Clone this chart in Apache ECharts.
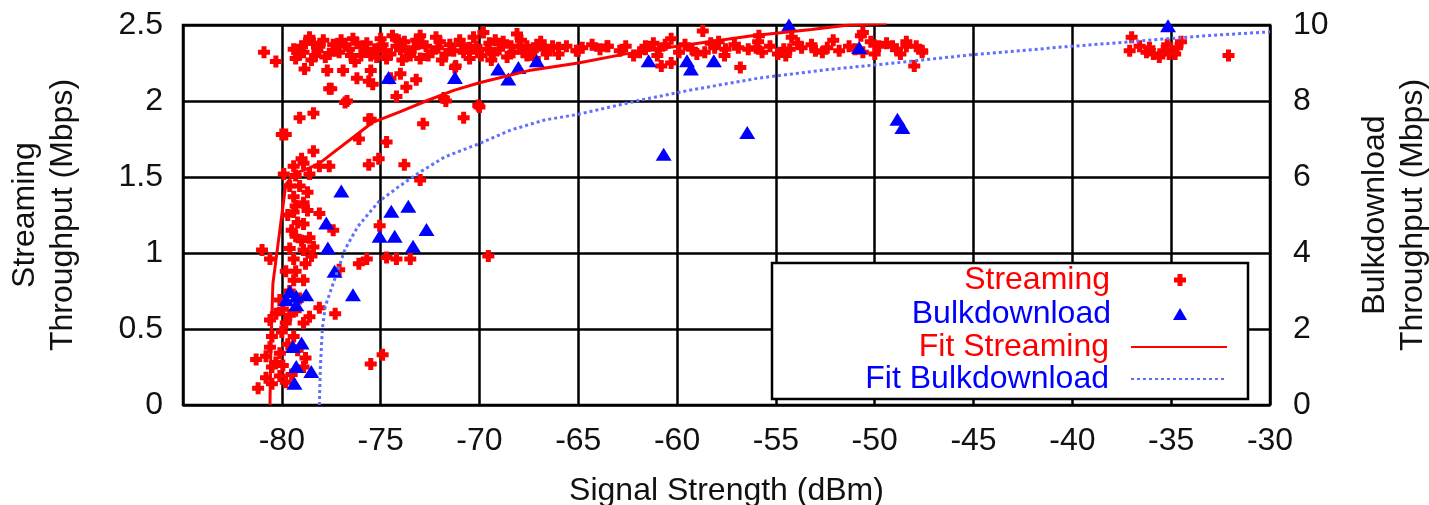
<!DOCTYPE html>
<html>
<head>
<meta charset="utf-8">
<script src="https://cdn.jsdelivr.net/npm/echarts@6/dist/echarts.min.js"></script>
<style>
  html, body { margin: 0; padding: 0; background: #fff; }
  #chart { width: 1429px; height: 505px; }
</style>
</head>
<body>
<div id="chart"></div>
<script>
// Signal strength (dBm) vs. measured throughput.

// Streaming throughput samples: [signal dBm, Mbps] (left axis)
const streamingPoints = [
  [-80.9,2.32],[-80.3,2.26],
  [-78.6,2.42],[-78.9,2.32],[-79.3,2.28],[-78.1,2.36],[-77.4,2.37],[-77.6,2.31],[-77.1,2.32],[-78.85,2.21],
  [-77.7,2.20],[-76.9,2.20],[-77.6,2.08],[-76.2,2.15],[-75.5,2.20],[-75.4,2.11],[-76.7,2.00],
  [-76.4,2.41],[-75.9,2.36],[-75.0,2.41],[-74.4,2.43],[-74.0,2.34],[-73.5,2.30],[-73.0,2.43],[-72.7,2.36],
  [-72.0,2.39],[-71.5,2.37],[-74.7,2.28],[-75.5,2.30],[-73.0,2.28],
  [-74.5,2.15],[-74.0,2.18],[-73.7,2.09],[-73.2,2.14],[-74.2,2.03],[-71.8,2.02],
  [-79.1,1.89],[-78.4,1.92],[-79.8,1.78],[-80.0,1.78],[-75.5,1.88],[-72.85,1.85],[-74.7,1.73],[-76.1,1.75],
  [-78.4,1.67],[-75.6,1.58],[-75.1,1.62],[-73.8,1.58],
  [-79.4,1.57],[-78.9,1.59],[-78.1,1.57],[-79.3,1.51],[-78.6,1.52],[-79.6,1.44],[-79.1,1.44],[-79.4,1.37],
  [-78.9,1.33],[-79.3,1.31],[-77.6,1.57],[-73.0,1.48],
  [-79.4,1.27],[-78.1,1.26],[-78.9,1.19],[-77.4,1.15],[-79.3,1.11],[-78.6,1.10],[-79.6,1.03],[-81.0,1.02],
  [-80.6,0.96],[-78.9,1.02],[-78.4,1.04],[-79.4,0.96],[-78.8,0.93],[-79.3,0.88],[-78.9,0.82],[-79.4,0.82],
  [-77.1,0.89],[-75.7,0.96],[-76.1,0.93],[-74.7,0.97],[-74.2,0.96],[-73.5,0.96],[-75.05,1.18],
  [-79.95,0.63],[-80.1,0.69],[-80.6,0.56],[-79.6,0.59],[-78.9,0.54],[-78.6,0.58],[-78.1,0.64],[-77.3,0.60],[-79.8,0.54],
  [-80.5,0.45],[-79.4,0.45],[-80.6,0.38],[-80.1,0.34],[-81.3,0.30],[-80.8,0.32],[-78.8,0.31],[-78.9,0.25],
  [-80.5,0.25],[-79.95,0.26],
  [-80.8,0.18],[-80.1,0.19],[-81.2,0.11],[-80.5,0.14],[-79.8,0.15],
  [-75.5,0.27],[-74.9,0.33],[-69.55,0.98],
  [-70.8,2.32],[-70.15,2.36],[-69.8,2.45],[-68.8,2.39],[-68.1,2.44],[-67.6,2.36],[-66.9,2.39],[-66.3,2.36],
  [-70.5,2.28],[-67.6,2.30],[-69.3,2.31],[-68.3,2.32],[-65.1,2.33],[-63.55,2.36],[-62.2,2.30],[-71.2,2.23],
  [-70.8,1.89],[-70.0,1.96],[-71.7,2.00],
  [-75.6,1.88],[-70.06,1.97],[-71.24,2.22],[-75.6,2.13],[-76.8,1.99],[-77.5,2.08],
  [-58.7,2.46],[-61.6,2.36],[-60.9,2.34],[-60.3,2.41],[-59.9,2.32],[-60.8,2.23],[-60.3,2.25],[-59.25,2.34],
  [-58.6,2.32],[-57.9,2.39],[-57.55,2.34],[-56.8,2.22],[-56.4,2.34],[-55.9,2.39],[-55.7,2.32],[-54.6,2.34],
  [-54.5,2.30],[-54.2,2.42],[-53.2,2.37],[-52.65,2.32],[-52.1,2.40],[-51.8,2.33],[-50.7,2.43],[-50.6,2.32],
  [-49.8,2.36],[-48.9,2.34],
  [-66.0,2.35],[-65.0,2.33],[-63.5,2.36],[-61.6,2.34],[-55.86,2.43],[-54.3,2.34],
  [-50.6,2.45],[-49.1,2.36],[-48.4,2.39],[-47.6,2.32],[-48.0,2.23],[-48.4,2.36],[-47.6,2.33],
  [-37.0,2.42],[-37.1,2.33],[-36.1,2.35],[-35.6,2.29],[-35.2,2.37],[-34.7,2.35],[-34.5,2.39],[-36.25,2.32],
  [-35.1,2.31],[-32.1,2.30],[-36.6,2.36],[-35.9,2.31],[-35.4,2.33],[-34.8,2.31],
  [-79.0,2.36],[-78.3,2.30],[-77.9,2.40],[-77.0,2.40],[-76.6,2.34],[-76.0,2.30],[-75.3,2.34],[-74.9,2.37],
  [-74.5,2.31],[-73.8,2.39],[-73.3,2.35],[-72.4,2.32],[-72.2,2.42],[-71.7,2.31],[-71.0,2.40],[-70.5,2.35],
  [-69.9,2.30],[-69.5,2.38],[-69.0,2.34],[-68.6,2.29],[-68.0,2.36],[-67.3,2.33],[-66.6,2.31],[-67.9,2.40],
  [-70.3,2.42],[-72.9,2.38],[-74.1,2.40],[-75.7,2.38],[-76.8,2.37],[-78.4,2.38],[-79.1,2.31],[-77.3,2.33],
  [-64.3,2.37],[-62.9,2.33],[-61.2,2.38],[-59.6,2.37],[-58.1,2.35],[-57.1,2.37],[-56.0,2.35],[-53.7,2.35],
  [-53.0,2.33],[-51.3,2.36],[-50.2,2.39],
  [-78.8,2.38],[-78.2,2.33],[-77.8,2.29],[-77.2,2.36],[-76.5,2.30],[-76.2,2.38],[-75.8,2.33],[-75.2,2.29],
  [-74.8,2.33],[-74.2,2.36],[-73.7,2.33],[-73.2,2.40],[-72.6,2.30],[-72.1,2.35],[-71.3,2.33],[-70.9,2.37],
  [-70.1,2.32],[-69.6,2.34],[-69.2,2.40],[-68.4,2.36],[-67.8,2.32],[-67.1,2.37],[-66.7,2.34],[-66.0,2.31],
  [-65.6,2.36],[-64.8,2.35],[-63.9,2.34],[-62.6,2.36],[-61.9,2.32],[-61.0,2.30],[-60.6,2.37],[-59.0,2.31],
  [-58.3,2.38],[-57.6,2.30],[-56.9,2.35],[-55.3,2.36],[-54.9,2.31],[-53.9,2.38],[-52.4,2.35],[-51.0,2.34],
  [-50.0,2.31],[-49.4,2.38],[-48.7,2.31],[-47.9,2.36],[-79.4,2.34],[-78.5,2.27],[-76.3,2.26],[-73.9,2.27],
  [-71.9,2.27],[-69.4,2.27],[-67.2,2.28],
  [-79.7,1.25],[-79.2,1.20],[-78.7,1.28],[-79.5,1.15],[-79.0,1.08],[-78.5,0.98],[-79.8,0.88],[-79.6,0.75],
  [-79.1,0.70],[-80.3,0.60],[-79.3,0.62],[-80.0,0.48],[-79.7,0.40],[-79.2,0.36],[-80.3,0.28],[-79.5,0.20],
  [-78.7,1.40],[-79.9,1.52],[-79.0,1.62]
];

// Bulk download throughput samples: [signal dBm, Mbps] (right axis)
const bulkPoints = [
  [-74.6,8.62],[-71.24,8.62],[-69.05,8.84],[-68.03,8.88],[-67.1,9.06],[-68.54,8.58],
  [-76.99,5.63],[-74.46,5.10],[-73.6,5.23],
  [-61.44,9.06],[-59.5,9.06],[-59.3,8.84],[-58.14,9.06],[-54.34,10.0],[-50.79,9.41],
  [-60.68,6.6],[-56.45,7.17],[-48.85,7.52],[-48.6,7.30],[-35.16,9.98],
  [-75.05,4.44],[-74.29,4.44],[-72.68,4.62],[-73.36,4.18],[-77.75,4.79],[-77.67,4.13],[-77.33,3.52],
  [-76.4,2.9],[-79.6,2.99],[-79.27,2.86],[-78.77,2.9],[-79.27,2.64],[-79.78,2.77],
  [-79.44,1.54],[-79.0,1.63],[-79.27,1.01],[-78.51,0.88],[-79.36,0.57]
];

// Logarithmic fit curves, sampled along the signal axis
const streamingFit = [
  [-80.6,0],[-80.55,0.4],[-80.45,0.8],[-80.2,1.05],[-79.95,1.3],[-79.8,1.45],[-79.4,1.52],[-78.6,1.56],
  [-78.1,1.59],[-77.4,1.66],[-76.4,1.76],[-75.4,1.86],[-74.0,1.93],[-72.7,2.0],[-71.3,2.07],[-70.0,2.12],
  [-67.5,2.20],[-65,2.25],[-62.6,2.31],[-60,2.36],[-56.2,2.43],[-53.2,2.47],[-51.3,2.50],[-49.4,2.51]
];
const bulkFit = [
  [-78.1,0],[-78.05,1],[-77.95,2],[-77.8,2.6],[-77.4,3.2],[-76.8,4.1],[-76.15,4.7],[-75.1,5.35],
  [-74.1,5.74],[-73.1,6.1],[-71.75,6.53],[-70,6.88],[-68.4,7.24],[-66.7,7.5],[-65,7.65],[-61.8,8.03],
  [-59.3,8.29],[-55.9,8.6],[-52.5,8.82],[-49,9.0],[-45.4,9.2],[-40.3,9.43],[-37,9.56],[-33.5,9.71],[-30,9.82]
];

const seriesNames = ['Streaming', 'Bulkdownload', 'Fit Streaming', 'Fit Bulkdownload'];
const xTitle = 'Signal Strength (dBm)';
const yLeftTitle = 'Streaming\nThroughput (Mbps)';
const yRightTitle = 'Bulkdownload\nThroughput (Mbps)';

const FONT = '"Liberation Sans", Arial, Helvetica, sans-serif';
const RED = '#ff0000';
const BLUE = '#0000ff';
const FIT_BLUE = '#5f6fff';
const PLUS = 'path://M3.5,0H8.5V3.5H12V8.5H8.5V12H3.5V8.5H0V3.5H3.5Z';

const chart = echarts.init(document.getElementById('chart'), null, { renderer: 'canvas' });

const axisText = { fontFamily: FONT, fontSize: 32, color: '#111' };
const gridLine = { show: true, lineStyle: { color: '#000', width: 2.5, type: 'solid' } };

function legendFor(name, color, right, top, iw, ih, pad, hideSymbol) {
  const lg = {
    data: [name],
    orient: 'vertical',
    align: 'right',
    right: right,
    top: top,
    padding: 0,
    itemWidth: iw,
    itemHeight: ih,
    selectedMode: false,
    textStyle: { fontFamily: FONT, fontSize: 32, color: color, lineHeight: 34, padding: [0, pad, 0, 0] }
  };
  if (hideSymbol) lg.itemStyle = { opacity: 0 };
  return lg;
}

chart.setOption({
  animation: false,
  backgroundColor: '#fff',
  grid: {
    left: 183, right: 159, top: 25, bottom: 100,
    show: true, borderColor: '#000', borderWidth: 2.5,
    containLabel: false, outerBoundsMode: 'none'
  },
  xAxis: {
    type: 'value', min: -85, max: -30, interval: 5,
    name: xTitle, nameLocation: 'middle', nameGap: 70,
    nameTextStyle: Object.assign({}, axisText, { lineHeight: 32 }),
    axisLine: { show: false },
    axisTick: { show: false },
    axisLabel: Object.assign({}, axisText, { margin: 20, showMinLabel: false }),
    splitLine: gridLine
  },
  yAxis: [
    {
      type: 'value', min: 0, max: 2.5, interval: 0.5, position: 'left',
      name: yLeftTitle, nameLocation: 'middle', nameRotate: 90, nameGap: 101,
      nameTextStyle: Object.assign({}, axisText, { lineHeight: 38 }),
      axisLine: { show: false },
      axisTick: { show: false },
      axisLabel: Object.assign({}, axisText, { margin: 20 }),
      splitLine: gridLine
    },
    {
      type: 'value', min: 0, max: 10, interval: 2, position: 'right',
      name: yRightTitle, nameLocation: 'middle', nameRotate: 90, nameGap: 86,
      nameTextStyle: Object.assign({}, axisText, { lineHeight: 38 }),
      axisLine: { show: false },
      axisTick: { show: false },
      axisLabel: Object.assign({}, axisText, { margin: 23 }),
      splitLine: { show: false }
    }
  ],
  legend: [
    legendFor(seriesNames[0], RED, 243, 263, 12, 12, 59, false),
    legendFor(seriesNames[1], BLUE, 242, 297, 14, 12, 57, false),
    legendFor(seriesNames[2], RED, 201, 330, 96, 14, 17, true),
    legendFor(seriesNames[3], BLUE, 201, 362, 96, 14, 17, true)
  ],
  graphic: {
    elements: [{
      type: 'rect', z: 3, silent: true,
      shape: { x: 772, y: 263, width: 476, height: 136 },
      style: { fill: '#fff', stroke: '#000', lineWidth: 2.5 }
    }]
  },
  series: [
    {
      name: seriesNames[0], type: 'scatter', yAxisIndex: 0,
      data: streamingPoints, symbol: PLUS, symbolSize: 12,
      itemStyle: { color: RED, opacity: 1 }, z: 2
    },
    {
      name: seriesNames[1], type: 'scatter', yAxisIndex: 1,
      data: bulkPoints, symbol: 'triangle', symbolSize: [16, 13],
      itemStyle: { color: BLUE, opacity: 1 }, z: 3
    },
    {
      name: seriesNames[2], type: 'line', yAxisIndex: 0,
      data: streamingFit, symbol: 'none', smooth: false,
      lineStyle: { color: RED, width: 3 }, itemStyle: { color: RED }, z: 4
    },
    {
      name: seriesNames[3], type: 'line', yAxisIndex: 1,
      data: bulkFit, symbol: 'none', smooth: false,
      lineStyle: { color: FIT_BLUE, width: 3, type: [3, 3] }, itemStyle: { color: FIT_BLUE }, z: 4
    }
  ]
});
</script>
</body>
</html>
